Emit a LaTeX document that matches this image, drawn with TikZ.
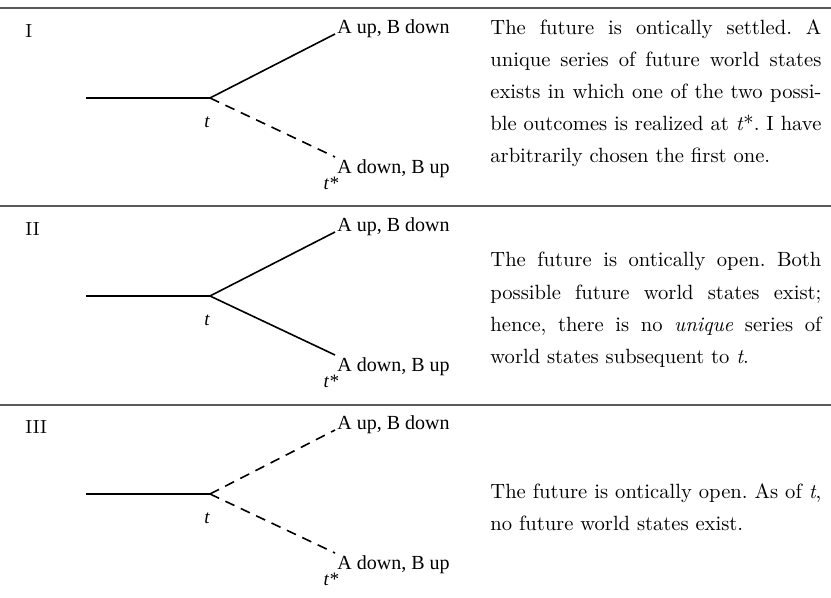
\documentclass[tikz,border=0pt]{standalone}
\usepackage{fontspec}
\newfontfamily\figfont{Liberation Serif}
\usetikzlibrary{positioning}

\tikzset{
    every branch/.style={line width=0.8pt},
    branch solid/.style={},
    branch dashed/.style={dash pattern=on 5pt off 3.5pt},
    outcome/.style={font=\figfont\fontsize{10}{11}\selectfont, inner sep=1pt},
    time label/.style={font=\figfont\itshape\fontsize{9.5}{10}\selectfont, inner sep=0pt},
    case label/.style={font=\fontsize{9.5}{11}\selectfont, inner sep=0pt, anchor=base west},
    caption/.style={text width=165.5pt, align=justify, inner sep=0pt, anchor=north west,
        font=\fontsize{10.3}{16.1}\selectfont\frenchspacing},
    rule/.style={draw=black!65, line width=0.65pt}
}

\begin{document}
\begin{tikzpicture}[x=0.5pt, y=-0.5pt]
        \useasboundingbox (0,0) rectangle (831,598);

        %%%%%%%%%%%%%%%%%%%%%%%%%%%%%%%%%%%%%%%%%%%%
        % Rules
        %%%%%%%%%%%%%%%%%%%%%%%%%%%%%%%%%%%%%%%%%%%%
        \foreach \y in {8,206,405}
            \draw [rule] (0,\y) -- (831,\y);

        %%%%%%%%%%%%%%%%%%%%%%%%%%%%%%%%%%%%%%%%%%%%
        % Branching diagrams
        %%%%%%%%%%%%%%%%%%%%%%%%%%%%%%%%%%%%%%%%%%%%

        % Drawing
        \foreach \c/\up/\down [count=\i from 0] in {I/solid/dashed, II/solid/solid, III/dashed/dashed} {
            \node [case label] (case-\i) at (25,38+198*\i) {\c};
            \coordinate (start-\i) at (86,98+198*\i);
            \coordinate (fork-\i) at (210,98+198*\i);
            \node [outcome, anchor=base west] (up-\i) at (335,34+198*\i) {A up, B down};
            \node [outcome, anchor=north west] (down-\i) at (335,157+198*\i) {A down, B up};

            \draw [every branch] (start-\i) -- (fork-\i);
            \draw [every branch, branch \up] (fork-\i) -- (up-\i.base west);
            \draw [every branch, branch \down] (fork-\i) -- (down-\i.north west);

            % Labeling
            \node [time label] (t-\i) at (207,122+198*\i) {t};
            \node [time label] (tstar-\i) at (331,183+198*\i) {t*};
        }

        %%%%%%%%%%%%%%%%%%%%%%%%%%%%%%%%%%%%%%%%%%%%
        % Captions
        %%%%%%%%%%%%%%%%%%%%%%%%%%%%%%%%%%%%%%%%%%%%
        \node [caption] (text-0) at (490,19) {The future is ontically settled. A\linebreak
            unique series of future world states\linebreak
            exists in which one of the two possi-\linebreak
            ble outcomes is realized at \textit{t}*. I~have\linebreak
            arbitrarily chosen the first one.};
        \node [caption] (text-1) at (490,252) {The future is ontically open. Both\linebreak
            possible future world states exist;\linebreak
            hence, there is no \textit{unique} series of\linebreak
            world states subsequent to \textit{t}.};
        \node [caption] (text-2) at (490,483) {The future is ontically open. As of \textit{t},\linebreak
            no future world states exist.};
    \end{tikzpicture}
\end{document}
